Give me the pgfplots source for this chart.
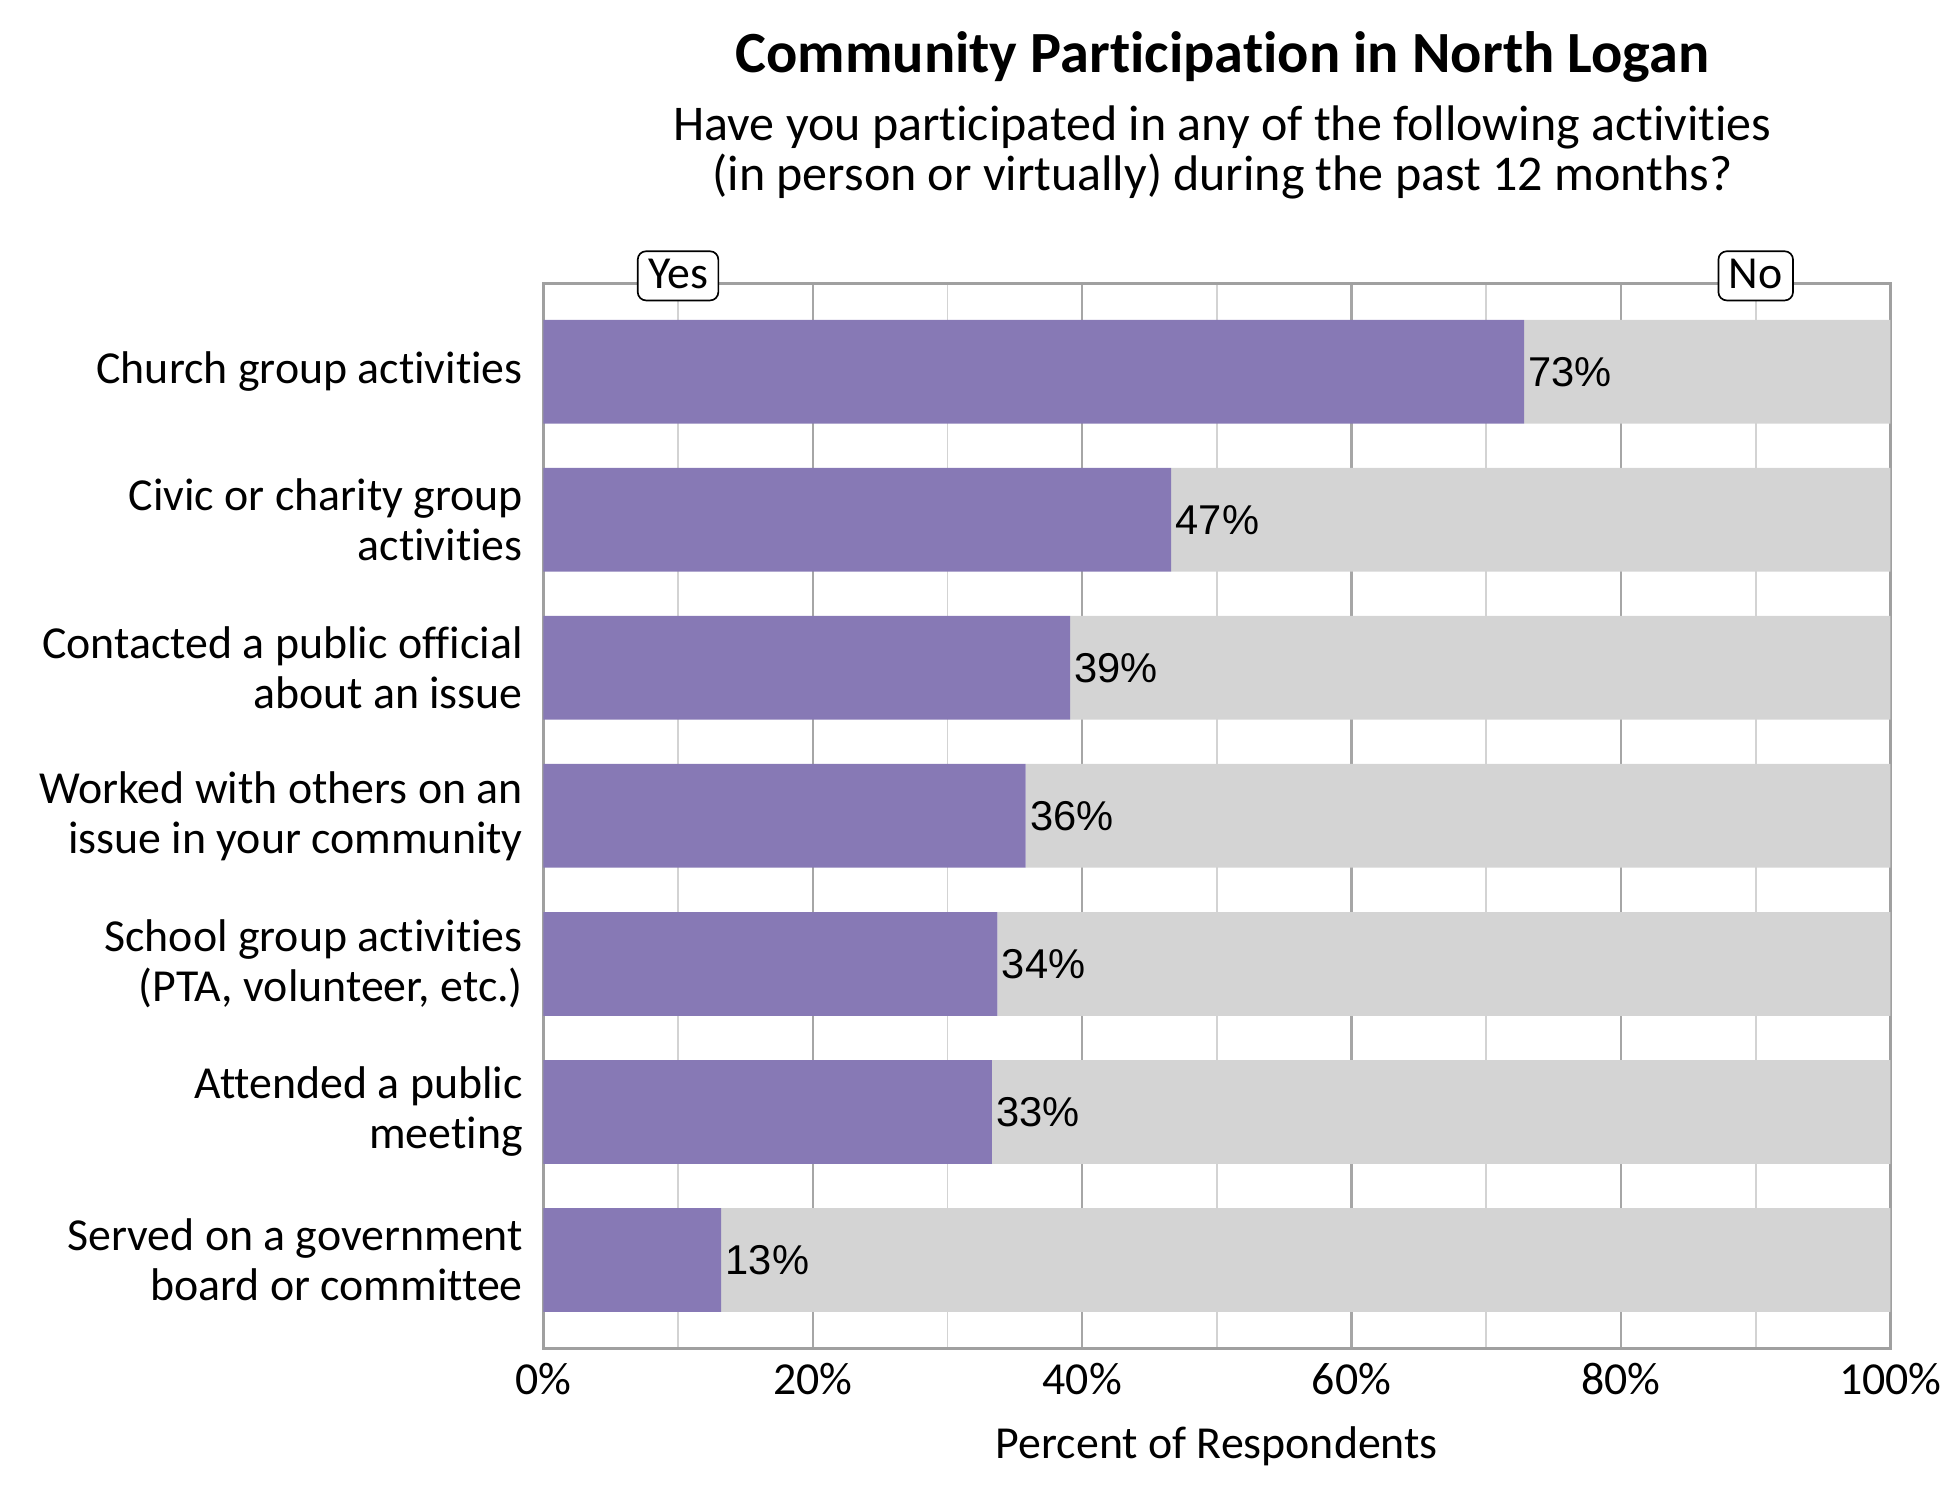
\documentclass[border=0pt]{standalone}
\usepackage{pgfplots}
\pgfplotsset{compat=1.18}
\usepackage{pgfplotstable}
\usepackage{fontspec}
\setmainfont{Carlito}[Ligatures=NoCommon]
\newfontfamily\arialfont{Liberation Sans}
\definecolor{yescol}{HTML}{8779B5}
\definecolor{nocol}{HTML}{D4D4D4}
\definecolor{framecol}{HTML}{A0A0A0}
\definecolor{majgrid}{HTML}{A6A6A6}
\definecolor{mingrid}{HTML}{D3D3D3}

\pgfplotstableread{
idx yes no
0 72.8 27.2
1 46.6 53.4
2 39.1 60.9
3 35.8 64.2
4 33.7 66.3
5 33.3 66.7
6 13.2 86.8
}\datatable

\begin{document}
\begin{tikzpicture}
\path[use as bounding box] (-130.4pt,-36.4pt) rectangle (337.6pt,323.6pt);
\begin{axis}[
  at={(0,0)}, anchor=south west,
  scale only axis, width=323.3pt, height=255.6pt,
  xbar stacked, bar width=24.9pt,
  xmin=0, xmax=100, ymin=-0.597, ymax=6.597, y dir=reverse,
  xtick={0,20,...,100}, minor x tick num=1,
  xticklabel={\pgfmathprintnumber{\tick}\%},
  ytick={0,...,6},
  yticklabels={Church group activities,
    {Civic or charity group\\activities},
    {Contacted a public official\\about an issue},
    {Worked with others on an\\issue in your community},
    {School group activities\\(PTA, volunteer, etc.)},
    {Attended a public\\meeting},
    {Served on a government\\board or committee}},
  yticklabel style={align=right, font=\fontsize{11}{12}\selectfont, xshift=-1.4pt},
  xticklabel style={font=\fontsize{11}{13}\selectfont},
  /pgf/number format/assume math mode=true,
  major tick length=0pt, minor tick length=0pt,
  xmajorgrids, xminorgrids,
  major grid style={majgrid, line width=0.55pt},
  minor grid style={mingrid, line width=0.45pt},
  axis line style={framecol, line width=0.8pt},
  xlabel={Percent of Respondents},
  xlabel style={at={(axis description cs:0.5,0)}, anchor=base, yshift=-26.4pt, font=\fontsize{11}{13}\selectfont},
]
\addplot[fill=yescol, draw=none] table[x=yes, y=idx] {\datatable};
\addplot[fill=nocol, draw=none] table[x=no, y=idx] {\datatable};
\end{axis}
\begin{axis}[
  at={(0,0)}, anchor=south west,
  scale only axis, width=323.3pt, height=255.6pt,
  xmin=0, xmax=100, ymin=-0.597, ymax=6.597, y dir=reverse,
  hide axis, clip=false,
  xbar, bar width=24.9pt,
  point meta=x,
  nodes near coords={\pgfmathprintnumber[fixed,precision=0,assume math mode=true]{\pgfplotspointmeta}\%},
  every node near coord/.append style={font=\arialfont\fontsize{10}{12}\selectfont, anchor=west, inner xsep=0.9pt},
]
\addplot[draw=none, fill=none] table[x=yes, y=idx] {\datatable};
\end{axis}
\node[anchor=base, font=\bfseries\fontsize{14}{16}\selectfont] at (163.0pt,306.2pt) {Community Participation in North Logan};
\node[anchor=base, font=\fontsize{12}{12}\selectfont] at (163.0pt,290.0pt) {Have you participated in any of the following activities};
\node[anchor=base, font=\fontsize{12}{12}\selectfont] at (163.0pt,278.0pt) {(in person or virtually) during the past 12 months?};
\node[draw=black, line width=0.4pt, fill=white, rounded corners=2pt, inner xsep=2.5pt, inner ysep=1.4pt, text height=7.5pt, text depth=1.5pt, font=\fontsize{11}{12}\selectfont] at (32.33pt,257.4pt) {Yes};
\node[draw=black, line width=0.4pt, fill=white, rounded corners=2pt, inner xsep=2.5pt, inner ysep=1.4pt, text height=7.5pt, text depth=1.5pt, font=\fontsize{11}{12}\selectfont] at (290.97pt,257.4pt) {No};
\end{tikzpicture}
\end{document}
